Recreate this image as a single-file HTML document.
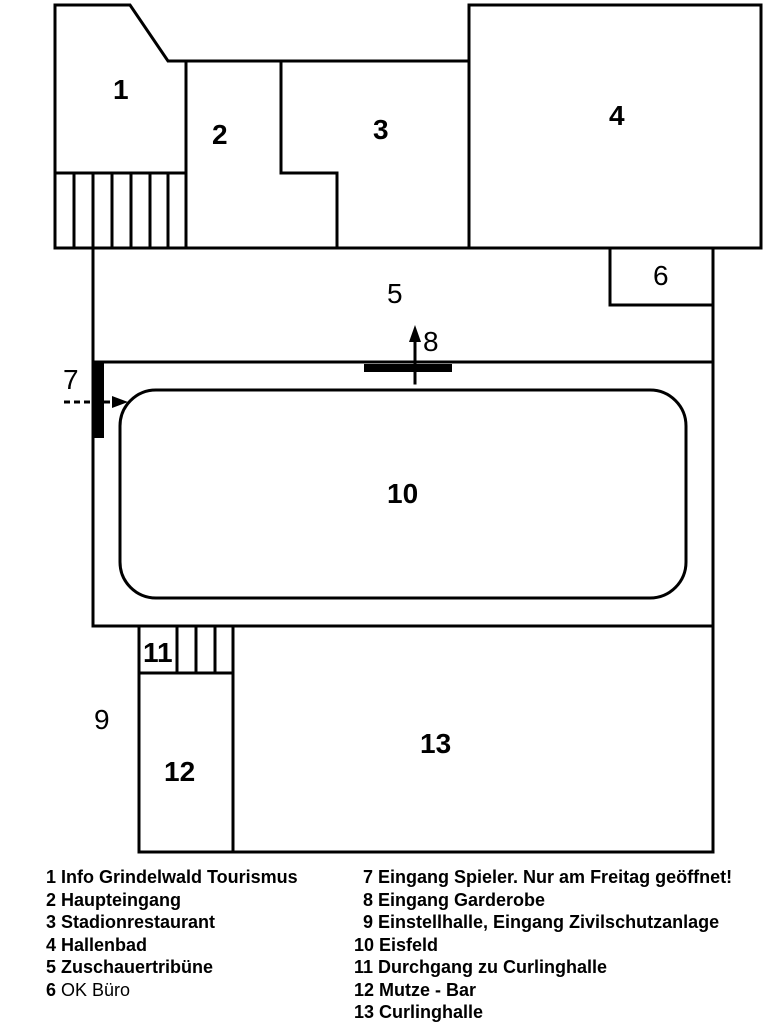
<!DOCTYPE html>
<html><head><meta charset="utf-8"><style>
html,body{margin:0;padding:0;background:#fff;width:774px;height:1024px;overflow:hidden}
svg{display:block}
.n{font-family:"Liberation Sans",sans-serif;font-size:28px;fill:#000}
.b{font-weight:bold}
.l{font-family:"Liberation Sans",sans-serif;font-size:18px;font-weight:bold;fill:#000}
</style></head><body>
<svg width="774" height="1024" viewBox="0 0 774 1024">
<g stroke="#000" stroke-width="3" fill="none" stroke-linecap="square">
<polyline points="55,246 55,5 130,5 168,61 469,61"/>
<line x1="55" y1="173" x2="186" y2="173"/>
<line x1="74" y1="173" x2="74" y2="246"/>
<line x1="93" y1="173" x2="93" y2="246"/>
<line x1="112" y1="173" x2="112" y2="246"/>
<line x1="131" y1="173" x2="131" y2="246"/>
<line x1="150" y1="173" x2="150" y2="246"/>
<line x1="168" y1="173" x2="168" y2="246"/>
<line x1="186" y1="61" x2="186" y2="246"/>
<polyline points="281,61 281,173 337,173 337,246"/>
<line x1="55" y1="248" x2="713" y2="248"/>
<rect x="469" y="5" width="292" height="243"/>
<line x1="93" y1="248" x2="93" y2="626"/>
<line x1="713" y1="248" x2="713" y2="852"/>
<polyline points="610,248 610,305 713,305"/>
<line x1="93" y1="362" x2="713" y2="362"/>
<rect x="120" y="390" width="566" height="208" rx="36" ry="36"/>
<line x1="93" y1="626" x2="713" y2="626"/>
<line x1="139" y1="626" x2="139" y2="852"/>
<line x1="233" y1="626" x2="233" y2="852"/>
<line x1="139" y1="673" x2="233" y2="673"/>
<line x1="177" y1="626" x2="177" y2="673"/>
<line x1="196" y1="626" x2="196" y2="673"/>
<line x1="215" y1="626" x2="215" y2="673"/>
<line x1="139" y1="852" x2="713" y2="852"/>
<line x1="415" y1="383" x2="415" y2="340"/>
</g>
<rect x="92" y="362" width="12" height="76" fill="#000"/>
<rect x="364" y="364" width="88" height="8" fill="#000"/>
<polygon points="415,325 409,342 421,342" fill="#000"/>
<line x1="64" y1="402" x2="114" y2="402" stroke="#000" stroke-width="3" stroke-dasharray="6,4"/>
<polygon points="128,402 112,396 112,408" fill="#000"/>
<text class="n b" x="113" y="99">1</text>
<text class="n b" x="212" y="144">2</text>
<text class="n b" x="373" y="139">3</text>
<text class="n b" x="609" y="125">4</text>
<text class="n" x="387" y="303">5</text>
<text class="n" x="653" y="285">6</text>
<text class="n" x="63" y="389">7</text>
<text class="n" x="423" y="351">8</text>
<text class="n" x="94" y="729">9</text>
<text class="n b" x="387" y="503">10</text>
<text class="n b" x="143" y="662">11</text>
<text class="n b" x="164" y="781">12</text>
<text class="n b" x="420" y="753">13</text>
<g class="l">
<text x="46" y="883">1 Info Grindelwald Tourismus</text>
<text x="46" y="906">2 Haupteingang</text>
<text x="46" y="928">3 Stadionrestaurant</text>
<text x="46" y="951">4 Hallenbad</text>
<text x="46" y="973">5 Zuschauertribüne</text>
<text x="46" y="996">6 <tspan font-weight="normal">OK Büro</tspan></text>
<text x="363" y="883">7 Eingang Spieler. Nur am Freitag geöffnet!</text>
<text x="363" y="906">8 Eingang Garderobe</text>
<text x="363" y="928">9 Einstellhalle, Eingang Zivilschutzanlage</text>
<text x="354" y="951">10 Eisfeld</text>
<text x="354" y="973">11 Durchgang zu Curlinghalle</text>
<text x="354" y="996">12 Mutze - Bar</text>
<text x="354" y="1018">13 Curlinghalle</text>
</g>
</svg>
</body></html>
